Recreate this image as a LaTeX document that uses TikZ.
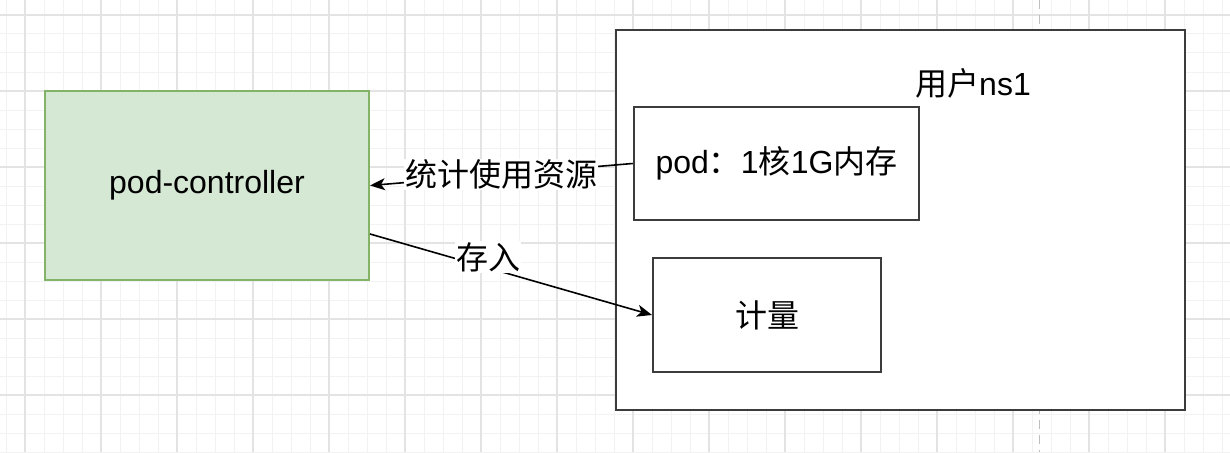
\documentclass[tikz,border=0pt]{standalone}
\usepackage{fontspec}
\setmainfont{Liberation Sans}
\newfontfamily\cjk{Noto Sans CJK SC}
\usetikzlibrary{arrows.meta,calc}
\definecolor{gridminor}{HTML}{F2F2F2}
\definecolor{gridmajor}{HTML}{E3E3E3}
\definecolor{greenfill}{HTML}{D5E8D4}
\definecolor{greenline}{HTML}{82B366}
\definecolor{boxline}{HTML}{3C3C3C}
\definecolor{dashgray}{HTML}{BEBEBE}
\begin{document}
\begin{tikzpicture}[x=1pt,y=-1pt,
  font=\fontsize{32}{38}\selectfont,
  box/.style={draw=boxline, line width=2pt, fill=white, inner sep=0pt},
  greenbox/.style={draw=greenline, line width=2pt, fill=greenfill, inner sep=0pt},
  conn/.style={line width=1.6pt, -{Stealth[length=15pt,width=12pt,inset=4pt]}},
  lbl/.style={fill=white, inner sep=1pt}]
\useasboundingbox (0,0) rectangle (1230,452);
\fill[white] (0,0) rectangle (1230,452);
% grid
\foreach \x in {6,25,...,1230} \draw[gridminor, line width=1pt] (\x,0) -- (\x,452);
\foreach \y in {15,34,...,452} \draw[gridminor, line width=1pt] (0,\y) -- (1230,\y);
\foreach \x in {25,101,...,1230} \draw[gridmajor, line width=1.2pt] (\x,0) -- (\x,452);
\foreach \y in {15,91,...,452} \draw[gridmajor, line width=1.2pt] (0,\y) -- (1230,\y);
% dashed page line
\draw[dashgray, line width=1pt, dash pattern=on 9pt off 6pt] (1039,0) -- (1039,452);
% nodes
\node[greenbox, minimum width=324pt, minimum height=189pt] (ctrl) at (207,185.5) {pod-controller};
\node[box, minimum width=569pt, minimum height=380pt] (ns) at (900.5,220) {};
\node (nslabel) at (973,83) {{\cjk 用户}ns1};
\node[box, minimum width=285.5pt, minimum height=113pt] (pod) at (776.5,163.5) {pod{\cjk ：}1{\cjk 核}1G{\cjk 内存}};
\node[box, minimum width=228pt, minimum height=114pt] (meter) at (767,315) {\cjk 计量};
% connectors
\coordinate (s2) at ($(ctrl.east)+(0,48.5)$);
\draw[conn] (pod.west) -- node[lbl, pos=0.5] {\cjk 统计使用资源} (ctrl.east);
\draw[conn] (s2) -- node[lbl, pos=0.42, yshift=11pt] {\cjk 存入} (meter.west);
\end{tikzpicture}
\end{document}
